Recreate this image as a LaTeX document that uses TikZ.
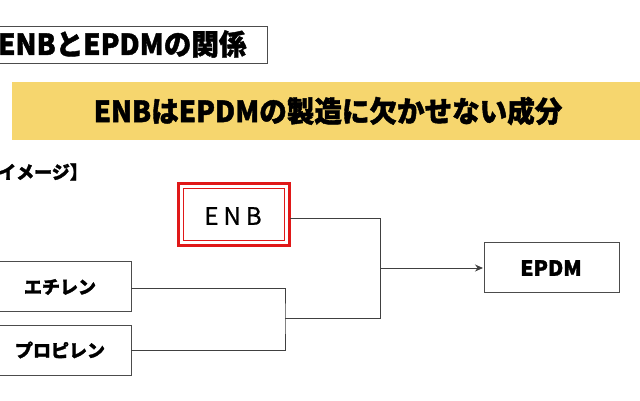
\documentclass[tikz,border=0pt]{standalone}
\usepackage{fontspec}
\setmainfont{Noto Sans CJK JP}[BoldFeatures={FakeBold=1.5}]
\usetikzlibrary{arrows.meta}
\definecolor{banner}{HTML}{F6D66E}
\definecolor{enbred}{HTML}{E01818}
\tikzset{
  box/.style={draw=black!70,line width=1pt,fill=white},
  wire/.style={draw=black!75,line width=1pt},
  lbl/.style={font=\bfseries\fontsize{18}{18}\selectfont,inner sep=0pt},
}
\begin{document}
\begin{tikzpicture}[x=1pt,y=-1pt]
\useasboundingbox (0,0) rectangle (640,400);
\fill[white] (0,0) rectangle (640,400);
% title
\draw[box] (-5,26) rectangle (267,63);
\node[inner sep=0pt,anchor=west,font=\bfseries\fontsize{29}{29}\selectfont,xscale=0.95] (title) at (-2,44) {ENBとEPDMの関係};
% banner
\fill[banner] (12,82) rectangle (645,140);
\node[inner sep=0pt,font=\bfseries\fontsize{29}{29}\selectfont,xscale=0.95] (ban) at (328,111) {ENBはEPDMの製造に欠かせない成分};
% image label
\node[inner sep=0pt,anchor=west,font=\bfseries\fontsize{18}{18}\selectfont] (img) at (-2,172) {イメージ】};
% ENB
\draw[enbred,line width=3pt,fill=white] (178,183) rectangle (289,245);
\draw[enbred,line width=0.7pt] (183,188) rectangle (284,240);
\node[inner sep=0pt,font=\fontsize{24}{24}\selectfont] (enb) at (233,216) {\addfontfeature{FakeBold=0.8}E\hspace{5pt}N\hspace{5pt}B};
\coordinate (enbR) at (290,218);
% EPDM
\draw[box] (484,242) rectangle (619,292);
\node[lbl,font=\bfseries\fontsize{21}{21}\selectfont] (epdm) at (551,268) {EPDM};
\coordinate (epdmL) at (483,268);
% ethylene / propylene
\draw[box] (-5,261) rectangle (131,311);
\node[lbl] (eth) at (60,287) {エチレン};
\coordinate (ethR) at (131,288);
\draw[box] (-5,325) rectangle (131,375);
\node[lbl] (pro) at (60,350) {プロピレン};
\coordinate (proR) at (131,350);
% connectors
\coordinate (j1) at (285,318);
\coordinate (j2) at (380,268);
\draw[wire] (ethR) -| (j1) |- (proR);
\draw[wire] (enbR) -| (380,318) -- (j1);
\draw[wire,-{Stealth[length=8pt,width=7pt]}] (j2) -- (epdmL);
\end{tikzpicture}
\end{document}
